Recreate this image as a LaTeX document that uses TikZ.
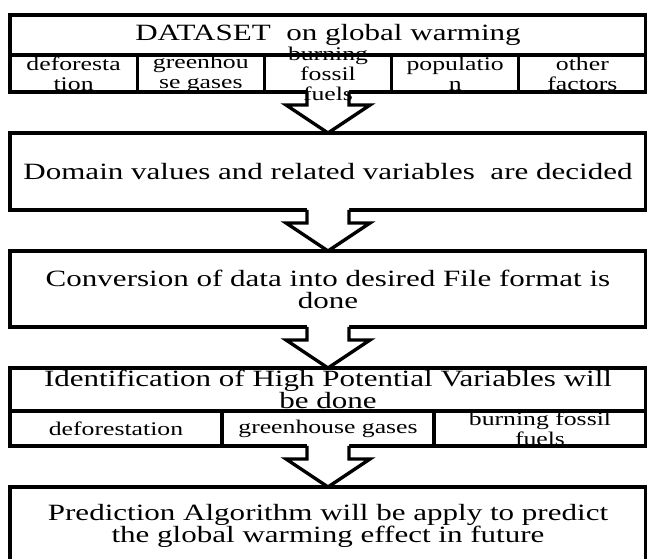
\documentclass[tikz,border=0pt]{standalone}
\usepackage{fontspec}
\setmainfont{Liberation Serif}[FakeStretch=1.33]
\usetikzlibrary{positioning,calc}

% hollow block arrow from the bottom of one node to the top of the next
\newcommand{\flowarrow}[2]{%
  \fill[white] ($(#1.south)+(-21,-2)$) -- ($(#1.south)+(-21,13)$) -- ($(#1.south)+(-42,13)$) -- (#2.north)
    -- ($(#1.south)+(42,13)$) -- ($(#1.south)+(21,13)$) -- ($(#1.south)+(21,-2)$) -- cycle;
  \draw[arrowline] ($(#1.south)+(-21,0)$) -- ++(0,13) -- ++(-21,0) -- (#2.north)
    -- ($(#1.south)+(42,13)$) -- ++(-21,0) -- ++(0,-13);%
}

\begin{document}
\begin{tikzpicture}[x=0.75pt, y=-0.75pt, node distance=30.75pt,
    box/.style={draw, rectangle, line width=2.5pt, minimum width=477pt, inner sep=0pt, outer sep=0pt,
      align=center, font=\fontsize{17.5}{16.5}\selectfont},
    cell/.style={draw, rectangle, line width=2.5pt, inner sep=0pt, outer sep=0pt},
    factorcell/.style={cell, minimum width=95.4pt, minimum height=27.75pt},
    varcell/.style={cell, minimum width=159pt, minimum height=26.25pt},
    celltext/.style={align=center, inner sep=0pt, font=\fontsize{14.5}{15}\selectfont},
    arrowline/.style={line width=2.5pt, line join=miter}]
    \useasboundingbox (0,0) rectangle (647,559);

    % dataset and its factors
    \node (dataset) [box, minimum height=30pt] at (328,35) {DATASET\ \ on global warming};
    \node (cdefor) [factorcell, below right=0pt and 0pt of dataset.south west] {};
    \node (cgreen) [factorcell, right=0pt of cdefor] {};
    \node (cfossil) [factorcell, right=0pt of cgreen] {};
    \node (cpop) [factorcell, right=0pt of cfossil] {};
    \node (cother) [factorcell, right=0pt of cpop] {};

    \node (domain) [box, minimum height=57.75pt, below=of cfossil] {Domain values and related variables\ \ are decided};
    \node (convert) [box, minimum height=57pt, below=of domain] {Conversion of data into desired File format is\\done};

    % high potential variables
    \node (identify) [box, minimum height=32.25pt, below=of convert] {Identification of High Potential Variables will\\be done};
    \node (vdefor) [varcell, below right=0pt and 0pt of identify.south west] {};
    \node (vgreen) [varcell, right=0pt of vdefor] {};
    \node (vfossil) [varcell, right=0pt of vgreen] {};

    \node (predict) [box, minimum height=58.5pt, below=of vgreen] {Prediction Algorithm will be apply to predict\\the global warming effect in future};

    \flowarrow{cfossil}{domain}
    \flowarrow{domain}{convert}
    \flowarrow{convert}{identify}
    \flowarrow{vgreen}{predict}

    % cell labels
    \node (tdefor) [celltext] at (cdefor) {deforesta\\tion};
    \node (tgreen) [celltext] at (cgreen) {greenhou\\se gases};
    \node (tfossil) [celltext] at (cfossil) {burning\\fossil\\fuels};
    \node (tpop) [celltext] at (cpop) {populatio\\n};
    \node (tother) [celltext] at (cother) {other\\factors};
    \node (udefor) [celltext] at (vdefor) {deforestation};
    \node (ugreen) [celltext] at (vgreen) {greenhouse gases};
    \node (ufossil) [celltext] at (vfossil) {burning fossil\\fuels};
\end{tikzpicture}
\end{document}
